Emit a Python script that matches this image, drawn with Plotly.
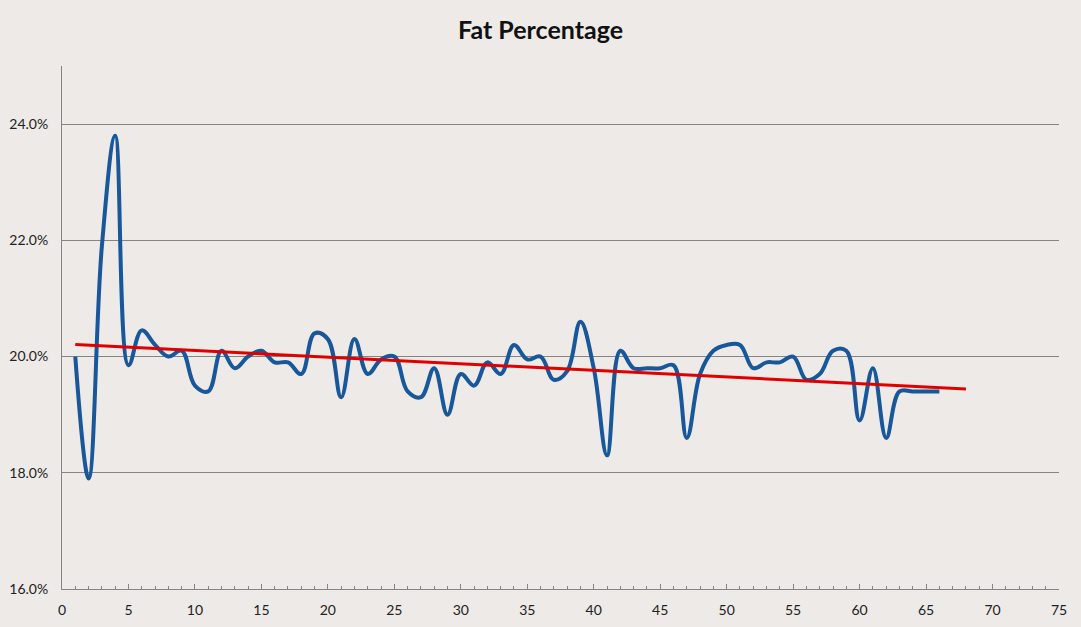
import numpy as np
import plotly.graph_objects as go

# Data (measurement index, fat %)
measurement = list(range(1, 67))
fat_pct = [
    20.0, 17.9, 21.9, 23.8, 19.85, 20.45, 20.2, 20.0, 20.1, 19.5,
    19.4, 20.1, 19.8, 20.0, 20.1, 19.9, 19.9, 19.7, 20.4, 20.3,
    19.3, 20.3, 19.7, 19.95, 20.0, 19.4, 19.3, 19.8, 19.0, 19.7,
    19.5, 19.9, 19.7, 20.2, 19.95, 20.0, 19.6, 19.75, 20.6, 19.8,
    18.3, 20.1, 19.8, 19.8, 19.8, 19.85, 18.6, 19.7, 20.1, 20.2,
    20.2, 19.8, 19.9, 19.9, 20.0, 19.6, 19.7, 20.1, 20.1, 18.9,
    19.8, 18.6, 19.4, 19.4, 19.4, 19.4,
]
forecast_forward = 2

title_text = "Fat Percentage"
y_ticks = [16, 18, 20, 22, 24]
x_ticks = list(range(0, 76, 5))

# Linear trend line (least squares), extended forward
slope, intercept = np.polyfit(measurement, fat_pct, 1)
trend_x = [measurement[0], measurement[-1] + forecast_forward]
trend_y = [slope * x + intercept for x in trend_x]

bg = "#EDEAE7"
grid = "#858585"

fig = go.Figure()
fig.add_trace(go.Scatter(
    x=measurement, y=fat_pct, mode="lines",
    line=dict(color="#17579A", width=4, shape="spline", smoothing=1.1),
    hoverinfo="x+y", showlegend=False,
))
fig.add_trace(go.Scatter(
    x=trend_x, y=trend_y, mode="lines",
    line=dict(color="#E00000", width=3),
    showlegend=False,
))

fig.update_layout(
    width=1081, height=627,
    paper_bgcolor=bg, plot_bgcolor=bg,
    margin=dict(l=62, r=22, t=66, b=38),
    title=dict(text=title_text, x=0.5, xanchor="center", y=0.952, yanchor="middle",
               font=dict(family="Lato", size=25, color="#111111", weight="bold")),
    font=dict(family="Lato", size=14, color="#222222"),
    xaxis=dict(
        range=[0, 75], tickmode="array", tickvals=x_ticks,
        ticks="inside", ticklen=5, tickcolor=grid, tickwidth=1,
        minor=dict(dtick=1, ticks="inside", ticklen=3, tickcolor=grid, showgrid=False),
        showline=True, linecolor=grid, linewidth=1, automargin=False,
        showgrid=False, zeroline=False, ticklabelstandoff=8,
        tickfont=dict(family="Lato", size=14, color="#222222"),
    ),
    yaxis=dict(
        range=[16, 25], tickmode="array", tickvals=y_ticks,
        ticktext=[f"{v:.1f}%" for v in y_ticks],
        showline=True, linecolor=grid, linewidth=1, automargin=False,
        showgrid=True, gridcolor=grid, gridwidth=1,
        zeroline=False, ticks="", ticklabelstandoff=10,
        tickfont=dict(family="Lato", size=14, color="#222222"),
    ),
)

fig.write_html(
    "out.html",
    config={"displayModeBar": False},
    post_script="document.body.style.margin='0';document.body.style.overflow='hidden';",
)
